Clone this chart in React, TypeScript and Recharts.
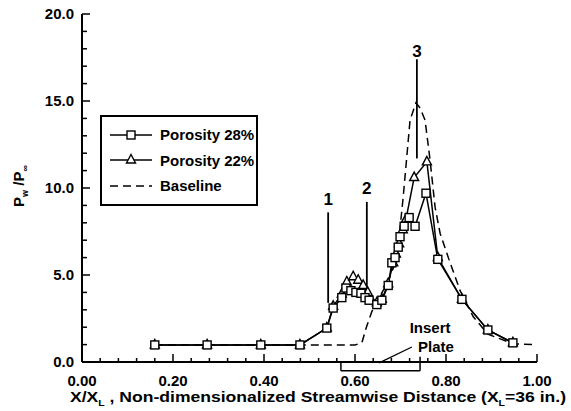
import React from "react";
import {
  LineChart,
  Line,
  XAxis,
  YAxis,
  ReferenceLine,
  ReferenceDot,
  Legend,
} from "recharts";

// Porosity 28% (squares)
const p28X = [0.16, 0.275, 0.393, 0.479, 0.538, 0.552, 0.571, 0.58, 0.591, 0.602, 0.613, 0.622, 0.631, 0.648, 0.659, 0.673, 0.681, 0.688, 0.695, 0.699, 0.708, 0.719, 0.732, 0.756, 0.782, 0.835, 0.892, 0.947];
const p28Y = [0.98, 0.98, 0.98, 0.98, 1.95, 3.1, 3.7, 4.25, 4.1, 4.0, 3.95, 3.7, 3.55, 3.3, 3.55, 4.4, 5.7, 6.0, 6.6, 7.2, 7.8, 8.3, 7.8, 9.7, 5.9, 3.6, 1.84, 1.1];

// Porosity 22% (triangles)
const p22X = [0.16, 0.275, 0.393, 0.479, 0.538, 0.552, 0.571, 0.582, 0.596, 0.607, 0.618, 0.628, 0.648, 0.659, 0.673, 0.684, 0.69, 0.697, 0.705, 0.712, 0.73, 0.758, 0.782, 0.835, 0.892, 0.947];
const p22Y = [0.98, 0.98, 0.98, 0.98, 1.95, 3.2, 3.9, 4.6, 4.9, 4.7, 4.4, 4.0, 3.4, 3.6, 4.5, 5.7, 6.2, 6.8, 7.6, 8.2, 10.6, 11.5, 6.0, 3.6, 1.84, 1.1];

// Baseline (dashed)
const baseX = [0.16, 0.479, 0.6, 0.615, 0.625, 0.637, 0.648, 0.67, 0.692, 0.706, 0.721, 0.734, 0.743, 0.754, 0.765, 0.776, 0.787, 0.809, 0.831, 0.86, 0.892, 0.947, 1.0];
const baseY = [0.98, 0.98, 0.98, 1.1, 2.0, 2.9, 3.45, 4.5, 5.9, 9.5, 13.9, 14.9, 14.6, 13.9, 11.6, 8.9, 7.4, 5.7, 4.1, 2.6, 1.6, 1.05, 1.0];

const xTicks = [0, 0.04, 0.08, 0.12, 0.16, 0.2, 0.24, 0.28, 0.32, 0.36, 0.4, 0.44, 0.48, 0.52, 0.56, 0.6, 0.64, 0.68, 0.72, 0.76, 0.8, 0.84, 0.88, 0.92, 0.96, 1.0];
const xMajor = [0, 0.2, 0.4, 0.6, 0.8, 1.0];
const yTicks = [0, 1, 2, 3, 4, 5, 6, 7, 8, 9, 10, 11, 12, 13, 14, 15, 16, 17, 18, 19, 20];
const yMajor = [0, 5, 10, 15, 20];

// numbered markers: label, x, line top, line bottom, label y
const markLabels = ["1", "2", "3"];
const markX = [0.541, 0.626, 0.736];
const markTop = [8.6, 9.2, 17.4];
const markBottom = [3.4, 3.85, 11.7];
const markLabelY = [9.35, 10.0, 17.9];

const zip = (xs: number[], ys: number[]) => xs.map((x, i) => ({ x, y: ys[i] }));
const data28 = zip(p28X, p28Y);
const data22 = zip(p22X, p22Y);
const dataBase = zip(baseX, baseY);

const FONT = "'Liberation Sans', Arial, Helvetica, sans-serif";

const near = (v: number, list: number[]) => list.some((m) => Math.abs(m - v) < 1e-6);

const XTick = (props: any) => {
  const { x, y, payload } = props;
  const major = near(payload.value, xMajor);
  return (
    <g>
      <line x1={x} y1={y} x2={x} y2={y - (major ? 8 : 4)} stroke="black" strokeWidth={1.5} />
      {major && (
        <text x={x} y={y + 24} textAnchor="middle" fontFamily={FONT} fontWeight="bold" fontSize={15} fill="black">
          {payload.value.toFixed(2)}
        </text>
      )}
    </g>
  );
};

const YTick = (props: any) => {
  const { x, y, payload } = props;
  const major = near(payload.value, yMajor);
  return (
    <g>
      <line x1={x} y1={y} x2={x + (major ? 8 : 5)} y2={y} stroke="black" strokeWidth={1.5} />
      {major && (
        <text x={x - 8} y={y + 5} textAnchor="end" fontFamily={FONT} fontWeight="bold" fontSize={15} fill="black">
          {payload.value.toFixed(1)}
        </text>
      )}
    </g>
  );
};

const SquareDot = (props: any) => {
  const { cx, cy, index } = props;
  if (cx == null || cy == null) return <g key={index} />;
  return <rect key={index} x={cx - 4} y={cy - 4} width={8} height={8} fill="white" stroke="black" strokeWidth={1.4} />;
};

const TriangleDot = (props: any) => {
  const { cx, cy, index } = props;
  if (cx == null || cy == null) return <g key={index} />;
  return (
    <polygon
      key={index}
      points={`${cx},${cy - 5.5} ${cx - 4.5},${cy + 3} ${cx + 4.5},${cy + 3}`}
      fill="white"
      stroke="black"
      strokeWidth={1.4}
    />
  );
};

const YLabel = (props: any) => {
  const { viewBox } = props;
  const cx = 24;
  const cy = viewBox.y + viewBox.height / 2 - 2;
  return (
    <text
      x={cx}
      y={cy}
      transform={`rotate(-90 ${cx} ${cy})`}
      textAnchor="middle"
      fontFamily={FONT}
      fontWeight="bold"
      fontSize={15}
      fill="black"
    >
      P<tspan fontSize={9} dy={4}>w</tspan>
      <tspan dy={-4}> /P</tspan>
      <tspan fontSize={9} dy={4}>∞</tspan>
    </text>
  );
};

const XLabel = (props: any) => {
  const { viewBox } = props;
  return (
    <text
      x={70}
      y={viewBox.y + 40}
      fontFamily={FONT}
      fontWeight="bold"
      fontSize={15}
      fill="black"
      textLength={496}
      lengthAdjust="spacingAndGlyphs"
    >
      X/X<tspan fontSize={9} dy={4}>L</tspan>
      <tspan dy={-4}> , Non-dimensionalized Streamwise Distance (X</tspan>
      <tspan fontSize={9} dy={4}>L</tspan>
      <tspan dy={-4}>=36 in.)</tspan>
    </text>
  );
};

const legendRows = [
  { name: "Porosity 28%", kind: "square" },
  { name: "Porosity 22%", kind: "triangle" },
  { name: "Baseline", kind: "dash" },
];

const LegendBox = () => (
  <div
    style={{
      width: 158,
      height: 91,
      border: "2px solid black",
      boxSizing: "border-box",
      background: "white",
      paddingTop: 5,
      fontFamily: FONT,
    }}
  >
    {legendRows.map((r) => (
      <div key={r.name} style={{ display: "flex", alignItems: "center", height: 25.5 }}>
        <svg width={52} height={16} style={{ marginLeft: 6 }}>
          {r.kind === "dash" ? (
            <line x1={2} y1={8} x2={44} y2={8} stroke="black" strokeWidth={1.5} strokeDasharray="8 5" />
          ) : (
            <line x1={2} y1={8} x2={44} y2={8} stroke="black" strokeWidth={1.5} />
          )}
          {r.kind === "square" && <rect x={19} y={4} width={8} height={8} fill="white" stroke="black" strokeWidth={1.4} />}
          {r.kind === "triangle" && (
            <polygon points="23,2.5 18.5,11 27.5,11" fill="white" stroke="black" strokeWidth={1.4} />
          )}
        </svg>
        <span style={{ fontWeight: "bold", fontSize: 15, color: "black" }}>{r.name}</span>
      </div>
    ))}
  </div>
);

const textStyle = { fontFamily: FONT, fontWeight: "bold", fill: "black" } as const;

export default function App() {
  return (
    <div style={{ position: "absolute", left: 0, top: 0, width: 571, height: 411, background: "white" }}>
      <LineChart width={571} height={411} margin={{ top: 14, right: 34, bottom: 48, left: 81 }}>
        <XAxis
          type="number"
          dataKey="x"
          domain={[0, 1]}
          ticks={xTicks}
          interval={0}
          height={1}
          tickSize={0}
          tickMargin={0}
          tickLine={false}
          axisLine={{ stroke: "black", strokeWidth: 2 }}
          tick={<XTick />}
          label={<XLabel />}
          allowDataOverflow
        />
        <YAxis
          type="number"
          domain={[0, 20]}
          ticks={yTicks}
          interval={0}
          width={1}
          tickSize={0}
          tickMargin={0}
          tickLine={false}
          axisLine={{ stroke: "black", strokeWidth: 2 }}
          tick={<YTick />}
          label={<YLabel />}
          allowDataOverflow
        />
        <Legend
          content={<LegendBox />}
          wrapperStyle={{ position: "absolute", left: 100, top: 115, width: 0, height: 0, overflow: "visible" }}
        />
        {markLabels.map((m, i) => (
          <ReferenceLine
            key={"ml" + m}
            segment={[
              { x: markX[i], y: markTop[i] },
              { x: markX[i], y: markBottom[i] },
            ]}
            stroke="black"
            strokeWidth={1.8}
          />
        ))}
        {markLabels.map((m, i) => (
          <ReferenceDot
            key={"md" + m}
            x={markX[i]}
            y={markLabelY[i]}
            r={0}
            fill="none"
            stroke="none"
            label={{ value: m, position: "center", fontSize: 17, ...textStyle }}
          />
        ))}
        {/* insert plate bracket and leader */}
        <ReferenceLine segment={[{ x: 0.569, y: 0 }, { x: 0.569, y: -0.5 }]} stroke="black" strokeWidth={1.5} ifOverflow="visible" />
        <ReferenceLine segment={[{ x: 0.569, y: -0.5 }, { x: 0.743, y: -0.5 }]} stroke="black" strokeWidth={1.5} ifOverflow="visible" />
        <ReferenceLine segment={[{ x: 0.743, y: 0.3 }, { x: 0.743, y: -0.5 }]} stroke="black" strokeWidth={1.5} ifOverflow="visible" />
        <ReferenceLine segment={[{ x: 0.653, y: -0.05 }, { x: 0.725, y: 0.86 }]} stroke="black" strokeWidth={1.3} ifOverflow="visible" />
        <ReferenceDot x={0.765} y={1.95} r={0} fill="none" stroke="none" label={{ value: "Insert", position: "center", fontSize: 15, ...textStyle }} />
        <ReferenceDot x={0.778} y={0.86} r={0} fill="none" stroke="none" label={{ value: "Plate", position: "center", fontSize: 15, ...textStyle }} />

        <Line
          data={dataBase}
          dataKey="y"
          type="linear"
          stroke="black"
          strokeWidth={1.5}
          strokeDasharray="8 5"
          dot={false}
          isAnimationActive={false}
        />
        <Line
          data={data22}
          dataKey="y"
          type="linear"
          stroke="black"
          strokeWidth={1.5}
          dot={TriangleDot}
          isAnimationActive={false}
        />
        <Line
          data={data28}
          dataKey="y"
          type="linear"
          stroke="black"
          strokeWidth={1.5}
          dot={SquareDot}
          isAnimationActive={false}
        />
      </LineChart>
    </div>
  );
}
